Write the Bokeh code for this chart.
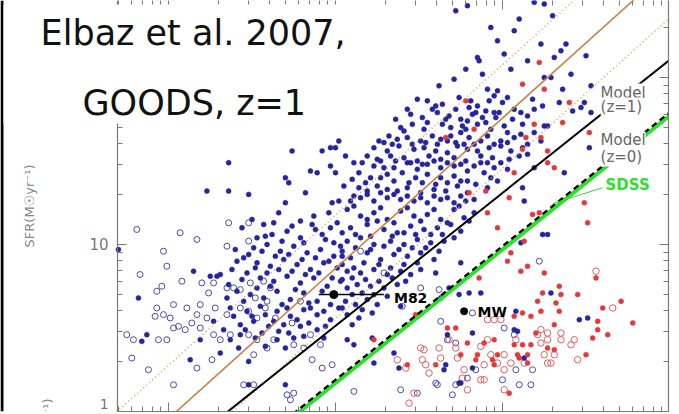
from bokeh.plotting import figure
from bokeh.models import Range1d, FixedTicker, Label, LogAxis, BoxAnnotation
from bokeh.embed import file_html
from bokeh.resources import INLINE

# ---------------- data: log10(M*/Msun), log10(SFR / Msun yr^-1) ----------------
# blue filled dots (z~1 star-forming, 24um detected)
BF_LOGM = [
    9.74, 9.92, 9.97, 10.00, 10.02, 9.36, 9.85, 9.89, 9.97, 10.00, 9.70, 9.72, 9.23, 9.36, 9.48, 9.82, 9.70, 9.98,
    10.72, 10.79, 11.19, 11.25, 11.30, 11.07, 10.97, 10.85, 10.86, 11.01, 11.23, 11.31, 11.35, 11.38, 11.50, 11.25, 11.29, 11.41,
    10.71, 10.91, 10.97, 10.95, 10.92, 11.03, 11.00, 10.49, 10.55, 10.74, 10.81, 10.60, 10.64, 10.80, 10.85, 10.90, 10.95, 11.07,
    11.11, 11.19, 11.24, 11.34, 11.42, 11.47, 11.53, 11.18,
    10.45, 10.52, 10.61, 10.68, 10.75, 10.82, 10.88, 10.98,
    10.39, 10.41, 10.46, 10.55, 10.64, 10.69, 10.76, 10.79, 10.85, 10.93, 11.03, 11.12, 11.19, 11.27,
    10.32, 10.26, 10.34, 10.43, 10.51, 10.58, 10.63, 10.69, 10.75, 10.80, 10.87, 10.91, 10.99, 11.07, 11.11, 11.15, 11.23,
    10.23, 10.31, 10.38, 10.47, 10.53, 10.60, 10.67, 10.73, 10.79, 10.85, 10.92, 10.99, 11.05, 11.12,
    10.19, 10.25, 10.33, 10.41, 10.49, 10.56, 10.63, 10.71, 10.78, 10.87, 10.94, 11.04, 11.10, 11.15,
    10.06, 10.11, 10.23, 10.29, 10.35, 10.43, 10.49, 10.55, 10.63, 10.71, 10.79, 10.87, 10.95, 11.03,
    10.14, 10.21, 10.31, 10.40, 10.48, 10.55, 10.63, 10.71, 10.79, 10.89, 10.97,
    10.14, 10.19, 10.25, 10.31, 10.37, 10.43, 10.51, 10.59, 10.66, 10.73, 10.79, 10.91,
    10.15, 10.23, 10.31, 10.39, 10.47, 10.55, 10.63, 10.71, 10.78, 10.09, 11.13, 11.12, 11.19,
    11.53, 11.36, 11.49, 11.25, 11.52, 11.37,
    8.70, 8.82, 8.87, 8.84, 9.15, 9.31, 9.41, 9.57, 9.37, 9.43, 9.13, 9.48, 9.25,
    9.66, 9.79, 9.87, 9.96, 10.01,
    9.62, 9.71, 9.79, 9.88, 9.94, 9.99,
    9.51, 9.59, 9.67, 9.75, 9.83, 9.91, 9.99,
    9.45, 9.53, 9.61, 9.69, 9.77, 9.85, 9.93, 10.01,
    9.47, 9.55, 9.63, 9.71, 9.79, 9.87, 9.95,
    9.41, 9.49, 9.57, 9.65, 9.73, 9.81, 9.89, 9.97,
    9.47, 9.55, 9.65, 9.73, 9.81, 9.89, 9.97,
    9.43, 9.51, 9.60, 9.69, 9.79, 9.89,
    9.37, 9.52, 9.65, 9.75,
    9.27, 9.19, 9.35, 9.29, 9.53, 9.70, 9.48,
    10.07, 10.15, 10.23, 10.31, 10.39, 10.47, 10.55, 10.63, 10.71, 10.77, 10.83,
    10.09, 10.19, 10.29, 10.37, 10.45, 10.53, 10.61, 10.69, 10.75,
    10.07, 10.15, 10.23, 10.33, 10.41, 10.49, 10.57, 10.65,
    10.09, 10.19, 10.27, 10.35, 10.43, 10.51, 10.59,
    10.07, 10.15, 10.23, 10.31, 10.39, 10.45, 10.51,
    10.07, 10.13, 10.21, 10.29, 10.37,
    10.06, 10.12, 10.19, 10.25,
    10.07, 10.14,
    10.60, 10.68, 10.75, 10.63, 10.74, 10.80, 10.87, 11.11, 11.24, 11.27,
    10.22, 10.07, 10.11, 10.23, 10.35, 10.39, 10.67, 11.09,
    11.29, 11.08, 11.46, 11.51, 11.07, 10.82, 10.66, 10.65, 10.74, 10.82, 11.13, 10.38, 10.75,
    # denser core
    9.44, 9.50, 9.58, 9.63, 9.68, 9.74, 9.81, 9.86, 9.92, 9.97, 10.03,
    9.40, 9.48, 9.56, 9.64, 9.72, 9.80, 9.88, 9.96, 10.04,
    9.38, 9.44, 9.52, 9.59, 9.66, 9.74, 9.82, 9.90, 9.98, 10.03,
    9.36, 9.45, 9.53, 9.61, 9.68, 9.76, 9.84, 9.92, 10.00,
    9.39, 9.50, 9.58, 9.63, 9.71, 9.77, 9.85, 9.93, 10.02,
    9.33, 9.46, 9.56, 9.66, 9.72, 9.84, 9.94,
    9.58, 9.70, 9.81, 9.93, 9.31, 9.42,
    10.11, 10.19, 10.27, 10.35, 10.43, 10.51, 10.59, 10.67, 10.74, 10.80,
    10.04, 10.12, 10.21, 10.25, 10.34, 10.41, 10.48, 10.57, 10.64, 10.71,
    10.04, 10.12, 10.21, 10.29, 10.38, 10.46, 10.54, 10.62,
    10.04, 10.11, 10.17, 10.26, 10.33, 10.41, 10.49,
    10.04, 10.10, 10.18, 10.26, 10.34, 10.42,
    10.10, 10.16, 10.23, 10.31, 10.04, 10.16, 10.22, 10.10,
    10.36, 10.43, 10.53, 10.58, 10.66, 10.72, 10.78, 10.84, 10.90, 10.96, 11.01, 11.06, 11.15,
    10.29, 10.37, 10.46, 10.54, 10.61, 10.67, 10.72, 10.77, 10.83, 10.95, 11.03,
    10.16, 10.27, 10.36, 10.45, 10.52, 10.59, 10.67, 10.75, 10.83, 10.91, 10.99,
    10.10, 10.18, 10.27, 10.35, 10.44, 10.52, 10.60, 10.67, 10.75, 10.84, 10.93,
    10.11, 10.19, 10.27, 10.35, 10.43, 10.51, 10.59, 10.67, 10.75, 10.83,
    10.05, 10.02,
    10.62, 10.78, 10.88, 11.05, 11.15, 10.93, 11.10,
]
BF_LOGSFR = [
    1.56, 1.56, 1.58, 1.58, 1.62, 1.49, 1.44, 1.43, 1.47, 1.43, 1.40, 1.37, 1.32, 1.32, 1.30, 1.31, 1.25, 1.25,
    2.40, 2.43, 2.45, 2.44, 2.37, 2.28, 2.22, 2.12, 2.10, 2.14, 2.20, 2.12, 2.16, 2.20, 2.13, 2.00, 2.00, 2.02,
    1.99, 1.93, 1.92, 1.89, 1.86, 1.88, 1.85, 1.87, 1.86, 1.88, 1.86, 1.83, 1.84, 1.82, 1.83, 1.80, 1.79, 1.81,
    1.79, 1.81, 1.83, 1.85, 1.80, 1.82, 1.79, 1.87,
    1.78, 1.76, 1.79, 1.77, 1.75, 1.78, 1.76, 1.79,
    1.70, 1.68, 1.72, 1.73, 1.72, 1.70, 1.71, 1.74, 1.72, 1.69, 1.67, 1.72, 1.67, 1.71,
    1.65, 1.62, 1.60, 1.64, 1.62, 1.65, 1.63, 1.65, 1.67, 1.64, 1.62, 1.65, 1.62, 1.64, 1.66, 1.60, 1.62,
    1.58, 1.56, 1.59, 1.57, 1.58, 1.56, 1.55, 1.59, 1.57, 1.56, 1.58, 1.59, 1.56, 1.58,
    1.53, 1.51, 1.53, 1.52, 1.50, 1.53, 1.51, 1.52, 1.50, 1.53, 1.52, 1.51, 1.53, 1.54,
    1.53, 1.49, 1.47, 1.46, 1.46, 1.49, 1.45, 1.48, 1.46, 1.47, 1.44, 1.49, 1.46, 1.45,
    1.43, 1.40, 1.42, 1.43, 1.40, 1.42, 1.40, 1.41, 1.38, 1.43, 1.38,
    1.34, 1.32, 1.35, 1.33, 1.32, 1.34, 1.31, 1.33, 1.32, 1.35, 1.31, 1.34,
    1.28, 1.26, 1.28, 1.27, 1.26, 1.25, 1.27, 1.25, 1.26, 1.26, 1.26, 1.34, 1.46,
    1.95, 1.93, 1.85, 1.71, 1.58, 1.43,
    0.97, 0.68, 0.46, 0.42, 0.84, 0.82, 0.90, 1.12, 0.62, 0.46, 0.31, 0.30, 0.81,
    1.19, 1.14, 1.17, 1.19, 1.13,
    1.06, 1.08, 1.04, 1.09, 1.03, 1.01,
    0.98, 1.00, 0.96, 0.99, 0.95, 0.97, 0.93,
    0.92, 0.89, 0.87, 0.91, 0.88, 0.85, 0.89, 0.86,
    0.83, 0.80, 0.78, 0.81, 0.77, 0.80, 0.75,
    0.72, 0.70, 0.68, 0.72, 0.67, 0.71, 0.66, 0.64,
    0.60, 0.63, 0.60, 0.57, 0.61, 0.58, 0.55,
    0.52, 0.54, 0.51, 0.52, 0.51, 0.49,
    0.43, 0.44, 0.43, 0.44,
    0.54, 0.43, 0.68, 0.81, 1.04, 0.16, 0.16,
    1.21, 1.17, 1.19, 1.15, 1.20, 1.17, 1.18, 1.15, 1.21, 1.16, 1.19,
    1.10, 1.12, 1.09, 1.07, 1.11, 1.09, 1.10, 1.12, 1.08,
    1.02, 1.04, 1.00, 1.02, 1.00, 1.03, 1.01, 1.02,
    0.92, 0.95, 0.91, 0.94, 0.93, 0.95, 0.91,
    0.84, 0.83, 0.85, 0.82, 0.84, 0.82, 0.85,
    0.74, 0.76, 0.75, 0.74, 0.76,
    0.66, 0.64, 0.67, 0.64,
    0.58, 0.56,
    0.83, 0.74, 0.89, 0.68, 0.70, 0.71, 0.71, 1.01, 1.06, 1.06,
    0.44, 0.43, 0.40, 0.29, 0.35, 0.63, 0.46, 0.48,
    0.71, 0.60, 0.55, 0.56, 0.49, 0.47, 0.28, 0.25, 0.17, 0.26, 0.32, 0.26, 0.17,
    # denser core
    1.10, 1.15, 1.05, 1.13, 1.02, 1.11, 1.01, 1.12, 1.06, 1.10, 0.99,
    0.97, 0.94, 0.96, 0.93, 0.94, 0.91, 0.92, 0.90, 0.93,
    0.85, 0.79, 0.86, 0.83, 0.85, 0.84, 0.82, 0.83, 0.80, 0.78,
    0.76, 0.66, 0.74, 0.75, 0.64, 0.73, 0.65, 0.72, 0.70,
    0.57, 0.57, 0.58, 0.54, 0.62, 0.55, 0.62, 0.60, 0.62,
    0.49, 0.49, 0.47, 0.48, 0.47, 0.53, 0.51,
    0.39, 0.38, 0.45, 0.44, 0.35, 0.38,
    1.23, 1.15, 1.22, 1.13, 1.22, 1.14, 1.21, 1.13, 1.23, 1.14,
    1.07, 1.06, 1.05, 1.14, 1.05, 1.07, 1.06, 1.06, 1.06, 1.04,
    0.96, 0.98, 0.97, 0.99, 0.97, 0.98, 0.98, 0.96,
    0.88, 0.86, 0.89, 0.88, 0.86, 0.88, 0.89,
    0.79, 0.80, 0.79, 0.78, 0.80, 0.78,
    0.70, 0.71, 0.70, 0.69, 0.62, 0.61, 0.59, 0.52,
    1.75, 1.81, 1.69, 1.81, 1.75, 1.81, 1.69, 1.79, 1.73, 1.76, 1.71, 1.75, 1.77,
    1.61, 1.63, 1.60, 1.61, 1.60, 1.62, 1.61, 1.60, 1.60, 1.60, 1.61,
    1.49, 1.50, 1.50, 1.49, 1.48, 1.50, 1.49, 1.48, 1.47, 1.49, 1.49,
    1.39, 1.37, 1.40, 1.38, 1.37, 1.37, 1.36, 1.37, 1.38, 1.36, 1.40,
    1.29, 1.30, 1.31, 1.30, 1.29, 1.28, 1.29, 1.28, 1.29, 1.27,
    1.35, 1.26,
    1.95, 2.05, 2.02, 2.05, 2.10, 2.30, 2.35,
]

# blue open circles (UV-only SFR)
BO_LOGM = [
    8.81, 9.07, 9.17, 9.36, 9.35, 9.48, 9.48, 8.97, 8.83, 8.99, 9.08, 9.20, 9.27, 8.93, 8.96, 8.93, 9.03, 9.11,
    9.19, 9.24, 9.35, 9.39, 9.43, 9.52, 9.57, 9.61, 8.75, 8.79, 8.94, 8.99, 8.92, 8.97, 9.01, 9.06, 9.10, 9.03,
    9.14, 9.19, 9.23, 9.17, 9.28, 9.35, 9.43, 9.48, 9.53, 9.58, 9.59, 9.27, 9.31, 9.37, 9.48, 9.53, 9.59, 9.51,
    9.63, 9.75, 9.81, 9.17, 9.26, 8.78, 8.88, 9.03, 9.45, 9.51, 9.71, 9.73, 9.86, 9.92, 9.98, 9.75, 10.11, 10.39,
    10.60, 10.70, 11.10, 11.17, 10.51, 10.62, 10.63, 10.82, 10.40, 10.67, 10.72, 11.01, 11.07, 10.72, 10.79, 11.00,
    11.08, 11.18, 11.22, 10.61, 10.49, 10.84, 9.49, 9.64, 9.74, 9.85, 9.91, 9.79, 10.29, 10.15,
]
BO_LOGSFR = [
    1.09, 1.07, 1.03, 1.13, 0.99, 1.13, 1.02, 0.96, 0.82, 0.87, 0.78, 0.77, 0.77, 0.72, 0.75, 0.62, 0.64, 0.62,
    0.64, 0.71, 0.74, 0.74, 0.73, 0.68, 0.78, 0.74, 0.46, 0.43, 0.43, 0.43, 0.57, 0.58, 0.56, 0.51, 0.49, 0.50,
    0.53, 0.50, 0.56, 0.58, 0.62, 0.58, 0.62, 0.60, 0.56, 0.62, 0.66, 0.46, 0.43, 0.46, 0.46, 0.43, 0.38, 0.34,
    0.43, 0.40, 0.38, 0.26, 0.31, 0.32, 0.25, 0.16, 0.16, 0.16, 0.10, 0.07, 0.31, 0.26, 0.28, 0.11, 0.12, 0.13,
    0.17, 0.10, 0.16, 0.16, 0.74, 0.73, 0.54, 0.59, 0.63, 0.43, 0.41, 0.50, 0.46, 0.16, 0.20, 0.19,
    0.25, 0.25, 0.90, 0.16, 0.11, 0.25, 0.77, 0.56, 0.53, 0.46, 0.40, 0.66, 0.83, 0.96,
]

# red filled dots
RF_LOGM = [
    11.22, 11.12, 11.25, 11.40, 11.36, 11.19, 10.83, 10.66, 11.23, 11.14, 11.12, 11.27, 11.07, 10.90, 10.80, 11.04,
    11.49, 11.52, 10.78, 11.31, 11.27,
    10.91, 11.18, 11.22, 11.51, 10.97, 11.13, 11.05, 11.03, 11.15, 11.11, 11.25, 10.86, 11.56, 11.34, 11.24, 11.35,
    11.45, 11.21, 11.32, 11.60, 11.71, 11.12, 11.23, 11.34, 11.07, 11.17, 11.78, 11.57, 11.31, 10.72, 10.79, 10.89,
    10.95, 11.07, 11.17, 11.27, 11.20, 11.57, 11.54, 11.63, 10.85, 10.97, 11.09, 11.15, 11.12, 10.23, 10.43, 10.48,
    10.67, 10.75, 10.84, 10.94, 10.95, 11.10, 11.15, 11.31, 11.50, 10.43, 10.60, 11.04,
]
RF_LOGSFR = [
    2.09, 1.96, 1.93, 1.85, 1.73, 1.72, 1.69, 1.64, 1.64, 1.64, 1.57, 1.49, 1.43, 1.32, 1.31, 1.28,
    1.25, 1.67, 1.86, 1.46, 1.56,
    1.19, 1.18, 1.19, 1.13, 1.10, 1.02, 0.95, 0.90, 0.87, 0.84, 0.83, 0.80, 0.80, 0.75, 0.71, 0.70,
    0.70, 0.66, 0.65, 0.62, 0.66, 0.59, 0.60, 0.60, 0.57, 0.57, 0.53, 0.54, 0.52, 0.50, 0.41, 0.41,
    0.43, 0.40, 0.40, 0.38, 0.47, 0.49, 0.44, 0.46, 0.34, 0.34, 0.34, 0.34, 0.40, 0.43, 0.52, 0.58,
    0.50, 0.34, 0.31, 0.31, 0.28, 0.32, 0.29, 0.37, 0.34, 0.28, 0.28, 0.11,
]

# red open circles
RO_LOGM = [
    11.56, 11.66, 10.91, 10.95, 10.99, 11.23, 11.27, 11.35, 11.21, 11.27, 10.91, 10.87, 11.01, 10.93, 10.97, 10.89,
    11.05, 11.13, 11.08, 11.23, 11.27, 11.31, 11.41, 11.35, 11.25, 11.29, 11.45, 11.43, 10.72, 10.73, 10.63, 10.53,
    10.52, 10.54, 10.56, 10.37, 10.42, 10.77, 10.87, 11.01, 11.01, 10.79, 10.44, 10.51, 10.68, 10.62, 10.47, 10.76,
    10.89,
]
RO_LOGSFR = [
    0.84, 0.62, 0.55, 0.55, 0.55, 0.49, 0.47, 0.47, 0.46, 0.43, 0.43, 0.39, 0.34, 0.34, 0.29, 0.28,
    0.29, 0.29, 0.43, 0.41, 0.29, 0.34, 0.40, 0.43, 0.34, 0.29, 0.31, 0.43, 0.38, 0.32, 0.32, 0.37,
    0.31, 0.28, 0.23, 0.31, 0.26, 0.25, 0.19, 0.25, 0.13, 0.13, 0.05, 0.38, 0.43, 0.38, 0.11, 0.20,
    0.19,
]

# relations (end points, log10 values)
ELBAZ_LOGM = [8.60, 12.00]
ELBAZ_MID = [-0.403, 2.657]     # SFR = 7.2 (M/1e10)^0.9
ELBAZ_HI = [-0.084, 2.976]      # upper 68% envelope
ELBAZ_LO = [-0.704, 2.356]      # lower 68% envelope
MODEL_Z1_LOGM = [9.20, 12.00]
MODEL_Z1_LOGSFR = [-0.124, 2.105]
MODEL_Z0_LOGM = [9.65, 12.00]
MODEL_Z0_LOGSFR = [-0.09, 1.79]
SDSS_LOGM = [9.65, 12.00]
SDSS_LOGSFR = [-0.11, 1.77]
SDSS_PTR_LOGM = [11.30, 11.60]
SDSS_PTR_LOGSFR = [1.245, 1.34]

M82_LOGM, M82_LOGSFR = [9.99], [0.70]
M82_ERR_LOGM = [9.90, 10.29]
MW_LOGM, MW_LOGSFR = [10.77], [0.60]

X_MAJOR = [1e9, 1e10, 1e11, 1e12]
Y_MAJOR = [1, 10, 100]
Y_LABELS = {1: "", 10: "10", 100: "100"}   # the "1" is set slightly raised, as on the slide

# panel geometry (log10 units)
X_AXIS_LO, X_HI = 8.695, 11.994       # left axis position / right edge
X_CANVAS_LO = 7.994                   # slide edge (frame extended to the left)
Y_LO, Y_HI = 0.0, 2.461


def lin(v):
    return [10 ** a for a in v]


X_MINOR = [m * 10 ** d for d in (8, 9, 10, 11) for m in range(2, 10) if m * 10 ** d >= 10 ** X_AXIS_LO]
Y_MINOR = [m * 10 ** d for d in (0, 1, 2) for m in range(2, 10)]

AX = "#7a7a7a"
p = figure(width=679, height=414, x_axis_type="log", y_axis_type="log",
           x_range=Range1d(10 ** X_CANVAS_LO, 10 ** X_HI), y_range=Range1d(10 ** Y_LO, 10 ** Y_HI),
           output_backend="svg", toolbar_location=None,
           min_border_left=0, min_border_right=11, min_border_top=0, min_border_bottom=3,
           background_fill_color="white", border_fill_color="white", outline_line_color=None)
p.grid.visible = False


def style(ax, major, minor, labels):
    ax.ticker = FixedTicker(ticks=major, minor_ticks=minor)
    ax.major_tick_in = 9
    ax.major_tick_out = 0
    ax.minor_tick_in = 5
    ax.minor_tick_out = 0
    ax.axis_line_color = AX
    ax.major_tick_line_color = AX
    ax.minor_tick_line_color = AX
    ax.axis_line_width = 1.2
    if not labels:
        ax.major_label_text_font_size = "0px"
        ax.major_label_standoff = 0
        ax.major_label_text_color = None


style(p.xaxis[0], X_MAJOR, X_MINOR, False)
p.xaxis[0].bounds = (10 ** X_AXIS_LO, 10 ** X_HI)
yax = p.yaxis[0]
style(yax, Y_MAJOR, Y_MINOR, True)
yax.fixed_location = 10 ** X_AXIS_LO
yax.major_label_overrides = Y_LABELS
yax.major_label_text_font = "DejaVu Sans"
yax.major_label_text_font_size = "15px"
yax.major_label_text_color = "#777777"
yax.major_label_standoff = 9
yax.axis_label = "SFR(M\u2609yr\u207b\u00b9)"
yax.axis_label_text_font = "DejaVu Sans"
yax.axis_label_text_font_size = "13px"
yax.axis_label_text_font_style = "normal"
yax.axis_label_text_color = "#888888"
yax.axis_label_standoff = 40

right = LogAxis()
style(right, Y_MAJOR, Y_MINOR, False)
p.add_layout(right, "right")
top = LogAxis()
style(top, X_MAJOR, X_MINOR, False)
top.axis_line_color = None
top.bounds = (10 ** X_AXIS_LO, 10 ** X_HI)
p.add_layout(top, "above")

BLUE = "#25259e"
RED = "#e23a3a"

p.scatter(lin(BO_LOGM), lin(BO_LOGSFR), size=6, fill_color=None, line_color="#4a4aa8", line_width=1)
p.scatter(lin(RO_LOGM), lin(RO_LOGSFR), size=6.5, fill_color=None, line_color="#e06060", line_width=1)
p.scatter(lin(BF_LOGM), lin(BF_LOGSFR), size=5, fill_color=BLUE, line_color=BLUE, line_width=0.5)
p.scatter(lin(RF_LOGM), lin(RF_LOGSFR), size=5, fill_color=RED, line_color=RED, line_width=0.5)

# relations
p.line(lin(ELBAZ_LOGM), lin(ELBAZ_HI), line_color="#d9a25e", line_width=1.6, line_dash="1 3")
p.line(lin(ELBAZ_LOGM), lin(ELBAZ_LO), line_color="#d9a25e", line_width=1.6, line_dash="1 3")
p.line(lin(ELBAZ_LOGM), lin(ELBAZ_MID), line_color="#c98347", line_width=1.6)
p.line(lin(MODEL_Z1_LOGM), lin(MODEL_Z1_LOGSFR), line_color="black", line_width=2)
p.line(lin(SDSS_LOGM), lin(SDSS_LOGSFR), line_color="#2ee02e", line_width=4)
p.line(lin(MODEL_Z0_LOGM), lin(MODEL_Z0_LOGSFR), line_color="black", line_width=2.2, line_dash="6 4")
p.line(lin(SDSS_PTR_LOGM), lin(SDSS_PTR_LOGSFR), line_color="#2ee02e", line_width=1)

# M82 and MW
p.line(lin(M82_ERR_LOGM), lin(M82_LOGSFR * 2), line_color="black", line_width=1.5)
p.scatter(lin(M82_LOGM), lin(M82_LOGSFR), size=8, fill_color="black", line_color="black")
p.scatter(lin(MW_LOGM), lin(MW_LOGSFR), size=7, fill_color="black", line_color="black")

# slide decoration: dark left edge and the white text box laid over the figure
p.add_layout(BoxAnnotation(right=10 ** (X_CANVAS_LO + 0.018), fill_color="black", fill_alpha=1, line_alpha=0))
p.add_layout(BoxAnnotation(left=10 ** (X_CANVAS_LO + 0.018), right=10 ** 10.341,
                           bottom=10 ** 1.725, top=10 ** 2.437,
                           fill_color="white", fill_alpha=1, line_alpha=0))


def lab(lm, ls, text, size, color="#666666", style="normal", font="DejaVu Sans", bg=None,
        angle=0, align="left", baseline="alphabetic"):
    kw = dict(x=10 ** lm, y=10 ** ls, text=text, text_font=font, text_font_size=size, text_color=color,
              text_font_style=style, text_align=align, text_baseline=baseline, angle=angle)
    if bg:
        kw["background_fill_color"] = bg
    p.add_layout(Label(**kw))


# lowest y tick label, raised so that it sits inside the slide
lab(8.641, 0.046, "1", "14px", color="#777777", align="right", baseline="middle")

lab(10.35, 0.677, "M82", "14px", color="black", style="bold")
lab(10.85, 0.597, "MW", "14px", color="black", style="bold")
lab(11.587, 1.910, "Model", "15px", bg="white")
lab(11.587, 1.826, "(z=1)", "15px", bg="white")
lab(11.587, 1.623, "Model", "15px", bg="white")
lab(11.587, 1.521, "(z=0)", "15px", bg="white")
lab(11.617, 1.355, "SDSS", "15px", color="#2ee02e", style="bold", bg="white")

# partial axis label of the panel below
lab(8.275, 0.078, "SFR(M\u2609yr\u207b\u00b9)", "13px", color="#888888", angle=1.5708,
    align="right", baseline="middle")

# slide title
lab(8.234, 2.265, "Elbaz et al. 2007,", "35px", color="#111111")
lab(8.485, 1.845, "GOODS, z=1", "35px", color="#111111")

open("out.html", "w").write(file_html(p, INLINE))
